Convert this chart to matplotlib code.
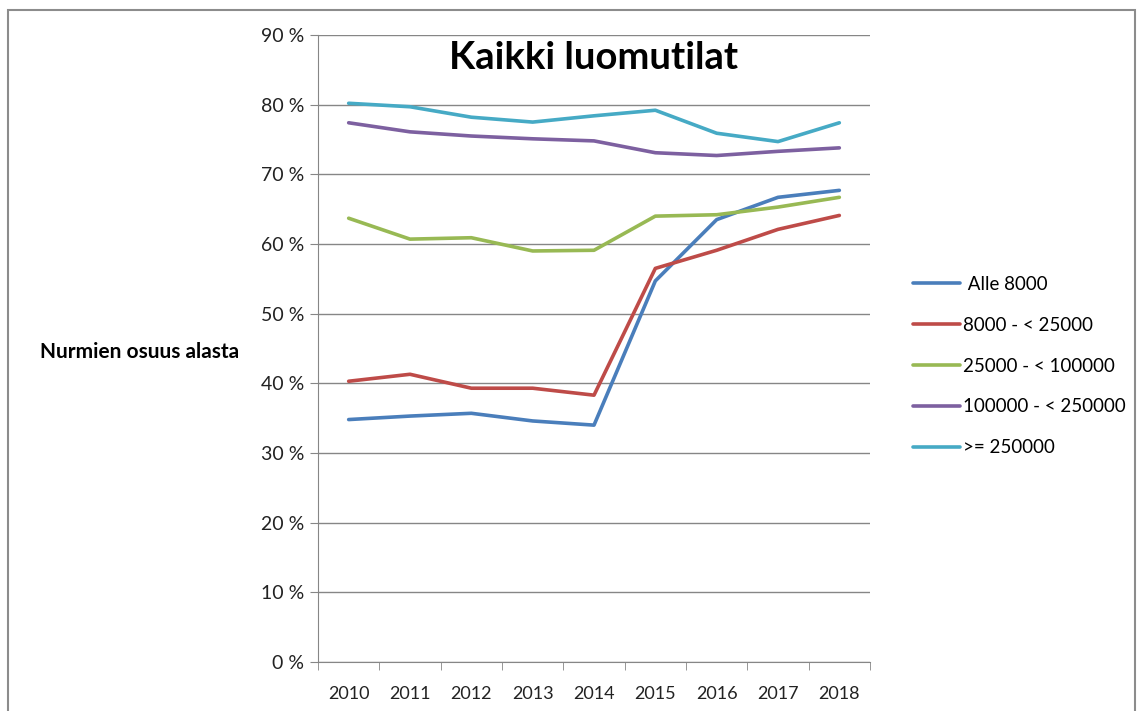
import matplotlib
matplotlib.use("Agg")
import matplotlib.pyplot as plt
from matplotlib.patches import Rectangle
from matplotlib.ticker import FuncFormatter, FixedLocator

plt.rcParams["font.family"] = ["Lato", "DejaVu Sans"]

years = ["2010", "2011", "2012", "2013", "2014", "2015", "2016", "2017", "2018"]
labels = [" Alle 8000", "8000 - < 25000", "25000 - < 100000", "100000 - < 250000", ">= 250000"]
alle_8000 = [34.8, 35.3, 35.7, 34.6, 34.0, 54.7, 63.5, 66.7, 67.7]
s_8000_25000 = [40.3, 41.3, 39.3, 39.3, 38.3, 56.5, 59.1, 62.1, 64.1]
s_25000_100000 = [63.7, 60.7, 60.9, 59.0, 59.1, 64.0, 64.2, 65.3, 66.7]
s_100000_250000 = [77.4, 76.1, 75.5, 75.1, 74.8, 73.1, 72.7, 73.3, 73.8]
s_250000 = [80.2, 79.7, 78.2, 77.5, 78.4, 79.2, 75.9, 74.7, 77.4]
colors = ["#4a7ebb", "#be4b48", "#98b954", "#7d60a0", "#46aac5"]

series = [alle_8000, s_8000_25000, s_25000_100000, s_100000_250000, s_250000]

fig = plt.figure(figsize=(11.38, 7.11), dpi=100)
fig.patches.append(Rectangle((8 / 1138, -0.01), 1127 / 1138, 1 - 10 / 711 + 0.01,
                             transform=fig.transFigure, fill=False,
                             edgecolor="#8c8c8c", linewidth=1.5))

ax = fig.add_axes([318 / 1138, 1 - 662 / 711, 552 / 1138, 627 / 711])
x = list(range(len(years)))
for vals, lab, col in zip(series, labels, colors):
    ax.plot(x, vals, color=col, linewidth=2.6, label=lab, solid_capstyle="round")

ax.set_xlim(-0.5, len(years) - 0.5)
ax.set_ylim(0, 90)
ax.set_yticks(range(0, 91, 10))
ax.yaxis.set_major_formatter(FuncFormatter(lambda v, p: f"{int(v)} %"))
ax.set_xticks(x)
ax.set_xticklabels(years)
ax.xaxis.set_minor_locator(FixedLocator([i - 0.5 for i in range(len(years) + 1)]))
ax.tick_params(axis="x", which="major", length=0, pad=17, labelsize=13, colors="#222222")
ax.tick_params(axis="x", which="minor", length=6, color="#868686", direction="out")
ax.tick_params(axis="y", length=6, color="#868686", pad=4, labelsize=14, labelcolor="#222222")
ax.grid(axis="y", color="#868686", linewidth=1)
ax.set_axisbelow(True)
for s in ["top", "right"]:
    ax.spines[s].set_visible(False)
for s in ["left", "bottom"]:
    ax.spines[s].set_color("#868686")

ax.text(0.5, 0.963, "Kaikki luomutilat", transform=ax.transAxes, ha="center", va="center",
        fontsize=27.5, fontweight="bold", color="black")
fig.text(40 / 1138, 1 - 352 / 711, "Nurmien osuus alasta", ha="left", va="center",
         fontsize=15, fontweight="bold")

ax.legend(loc="upper left", bbox_to_anchor=(896 / 1138, 1 - 259 / 711),
          bbox_transform=fig.transFigure, frameon=False, fontsize=13.5,
          handlelength=2.5, handletextpad=0.15, labelspacing=1.27)

fig.savefig("out.png", dpi=100)
